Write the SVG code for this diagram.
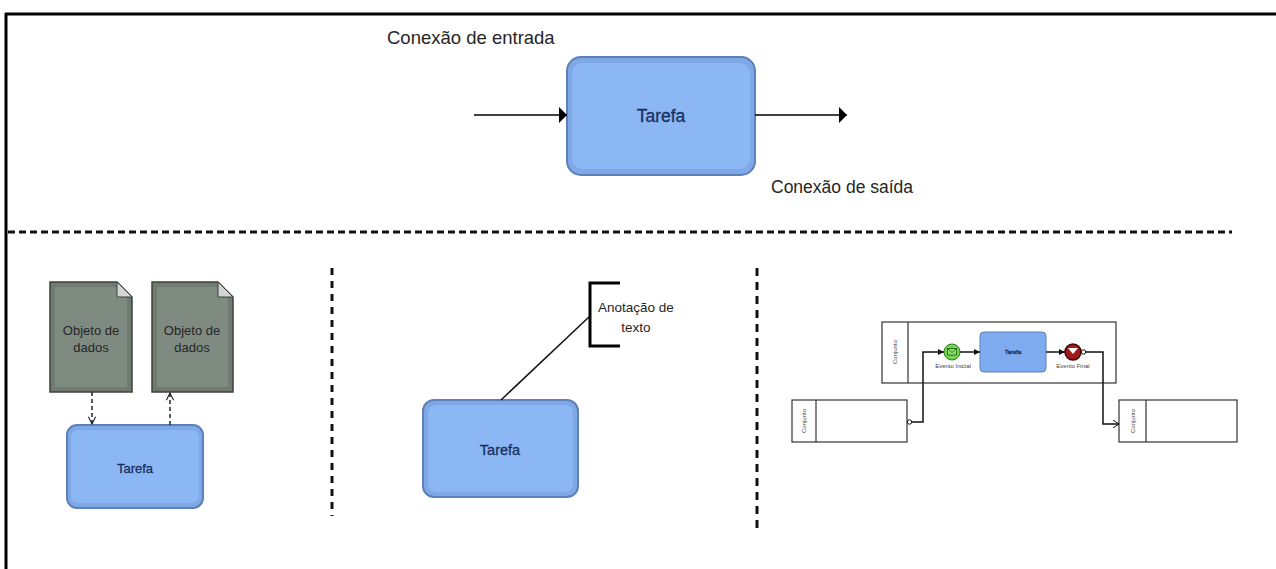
<svg xmlns="http://www.w3.org/2000/svg" width="1276" height="569" viewBox="0 0 1276 569">
<defs>
<style>
.lbl{font-family:"Liberation Sans",Arial,sans-serif;fill:#262626}
.tk{font-family:"Liberation Sans",Arial,sans-serif;fill:#1a2f5e;text-anchor:middle;stroke:#1a2f5e;stroke-width:0.3}
.task{fill:#7ea8e6;stroke:#5d80b8;stroke-width:2}
.taskin{fill:#8cb7f5;stroke:none}
.doc{fill:#6f7a71;stroke:#3c423d;stroke-width:1.5}
.docin{fill:#7f8b81}
.sep{stroke:#111;stroke-width:3;fill:none}
.pool{fill:#fff;stroke:#333;stroke-width:1.2}
.flow{stroke:#111;stroke-width:1.5;fill:none}
.tiny{font-family:"Liberation Sans",Arial,sans-serif;font-size:6px;fill:#444}
</style>
<marker id="ah" viewBox="0 0 8 16" refX="8" refY="8" markerWidth="8" markerHeight="16" markerUnits="userSpaceOnUse" orient="auto">
<path d="M0,0 L8,8 L0,16 Z" fill="#000"/>
</marker>
<marker id="open" viewBox="0 0 10 10" refX="9" refY="5" markerWidth="9" markerHeight="9" markerUnits="userSpaceOnUse" orient="auto">
<path d="M1,1 L9,5 L1,9" fill="none" stroke="#222" stroke-width="1.2"/>
</marker>
<marker id="sm" viewBox="0 0 6 6" refX="6" refY="3" markerWidth="6" markerHeight="6" markerUnits="userSpaceOnUse" orient="auto">
<path d="M0,0 L6,3 L0,6 Z" fill="#111"/>
</marker>
<marker id="smo" viewBox="0 0 6 8" refX="6" refY="4" markerWidth="6" markerHeight="8" markerUnits="userSpaceOnUse" orient="auto">
<path d="M0,0 L6,4 L0,8" fill="none" stroke="#111" stroke-width="1"/>
</marker>
</defs>
<rect width="1276" height="569" fill="#fff"/>
<g id="frame">
<line x1="5" y1="14" x2="1276" y2="14" stroke="#000" stroke-width="3"/>
<line x1="6" y1="13" x2="6" y2="569" stroke="#000" stroke-width="3"/>
</g>
<g id="separators">
<line class="sep" x1="8" y1="232" x2="1232" y2="232" stroke-dasharray="7 4"/>
<line class="sep" x1="332" y1="268" x2="332" y2="516" stroke-dasharray="7 6" stroke-width="2.5"/>
<line class="sep" x1="757" y1="268" x2="757" y2="530" stroke-dasharray="8 6" stroke-width="2.5"/>
</g>
<g id="label-entrada"><text class="lbl" x="387" y="44" font-size="18.5">Conexão de entrada</text></g>
<g id="label-saida"><text class="lbl" x="771" y="193" font-size="17.5">Conexão de saída</text></g>
<g id="task-main">
<rect class="task" x="567" y="57" width="188" height="118" rx="14"/>
<rect class="taskin" x="572" y="63" width="178" height="106" rx="10"/>
<text class="tk" x="661" y="122" font-size="17.5">Tarefa</text>
</g>
<g id="data-object-1">
<path class="doc" d="M50,282 L117,282 L132,297 L132,392 L50,392 Z"/>
<path class="docin" d="M55,287 L115,287 L127,299 L127,387 L55,387 Z"/>
<path d="M117,282 L117,297 L132,297 Z" fill="#d4d4d4" stroke="#3c423d" stroke-width="1"/>
<text class="lbl" x="91" y="335" font-size="13" text-anchor="middle" fill="#1e231f">Objeto de</text>
<text class="lbl" x="91" y="352" font-size="13" text-anchor="middle" fill="#1e231f">dados</text>
</g>
<g id="data-object-2">
<path class="doc" d="M152,282 L218,282 L233,297 L233,392 L152,392 Z"/>
<path class="docin" d="M157,287 L216,287 L228,299 L228,387 L157,387 Z"/>
<path d="M218,282 L218,297 L233,297 Z" fill="#d4d4d4" stroke="#3c423d" stroke-width="1"/>
<text class="lbl" x="192" y="335" font-size="13" text-anchor="middle" fill="#1e231f">Objeto de</text>
<text class="lbl" x="192" y="352" font-size="13" text-anchor="middle" fill="#1e231f">dados</text>
</g>
<g id="task-left">
<rect class="task" x="67" y="425" width="136" height="83" rx="10"/>
<rect class="taskin" x="71" y="430" width="128" height="73" rx="7"/>
<text class="tk" x="135" y="473" font-size="13">Tarefa</text>
</g>
<g id="annotation">
<path d="M620,283 L590,283 L590,346 L620,346" fill="none" stroke="#000" stroke-width="3"/>
<text class="lbl" x="598" y="312" font-size="13.5">Anotação de</text>
<text class="lbl" x="636" y="332" font-size="13.5" text-anchor="middle">texto</text>
</g>
<g id="task-middle">
<rect class="task" x="423" y="400" width="155" height="97" rx="11"/>
<rect class="taskin" x="428" y="405" width="145" height="87" rx="8"/>
<text class="tk" x="500" y="455" font-size="14.5">Tarefa</text>
</g>
<g id="pool-top">
<rect class="pool" x="882" y="322" width="234" height="61"/>
<line x1="908" y1="322" x2="908" y2="383" stroke="#333" stroke-width="1.2"/>
<text class="tiny" transform="translate(897,352) rotate(-90)" text-anchor="middle">Conjunto</text>
</g>
<g id="start-event">
<circle cx="952" cy="352" r="8" fill="#6ed84e" stroke="#2f7a1e" stroke-width="1"/>
<rect x="947.5" y="348.5" width="9" height="6.5" fill="#8ee06e" stroke="#1f5a12" stroke-width="0.8"/>
<path d="M947.5,348.5 L952,352.5 L956.5,348.5" fill="none" stroke="#1f5a12" stroke-width="0.8"/>
<text class="tiny" x="953" y="368" text-anchor="middle">Evento Inicial</text>
</g>
<g id="task-small">
<rect x="980" y="332" width="66" height="40" rx="4" fill="#7eaaf0" stroke="#5d80b8" stroke-width="1"/>
<text class="tk" x="1013" y="354" font-size="6" stroke-width="0">Tarefa</text>
</g>
<g id="end-event">
<circle cx="1073" cy="352" r="8" fill="#a01a1a" stroke="#3a0a0a" stroke-width="1.5"/>
<path d="M1068,348 L1078,348 L1073,354 Z" fill="#fff"/>
<text class="tiny" x="1073" y="368" text-anchor="middle">Evento Final</text>
</g>
<g id="pool-left">
<rect class="pool" x="792" y="400" width="115" height="42"/>
<line x1="816" y1="400" x2="816" y2="442" stroke="#333" stroke-width="1.2"/>
<text class="tiny" transform="translate(806,421) rotate(-90)" text-anchor="middle">Conjunto</text>
</g>
<g id="pool-right">
<rect class="pool" x="1119" y="400" width="118" height="42"/>
<line x1="1146" y1="400" x2="1146" y2="442" stroke="#333" stroke-width="1.2"/>
<text class="tiny" transform="translate(1135,421) rotate(-90)" text-anchor="middle">Conjunto</text>
</g>
<g id="connectors">
<line x1="474" y1="115" x2="567" y2="115" stroke="#000" stroke-width="1.5" marker-end="url(#ah)"/>
<line x1="755" y1="115" x2="847" y2="115" stroke="#000" stroke-width="1.5" marker-end="url(#ah)"/>
<line x1="92" y1="392" x2="92" y2="424" stroke="#222" stroke-width="1.5" stroke-dasharray="4 3" marker-end="url(#open)"/>
<line x1="170" y1="425" x2="170" y2="393" stroke="#222" stroke-width="1.5" stroke-dasharray="4 3" marker-end="url(#open)"/>
<line x1="590" y1="316" x2="501" y2="400" stroke="#111" stroke-width="1.5"/>
<line class="flow" x1="960" y1="352" x2="980" y2="352" marker-end="url(#sm)"/>
<line class="flow" x1="1046" y1="352" x2="1065" y2="352" marker-end="url(#sm)"/>
<circle cx="909.5" cy="422" r="2.2" fill="#fff" stroke="#111" stroke-width="1"/>
<path class="flow" d="M912,422 L923,422 L923,352 L944,352" marker-end="url(#sm)"/>
<circle cx="1083.5" cy="352" r="2.2" fill="#fff" stroke="#111" stroke-width="1"/>
<path class="flow" d="M1086,352 L1103,352 L1103,424 L1119,424" marker-end="url(#smo)"/>
</g>
</svg>
